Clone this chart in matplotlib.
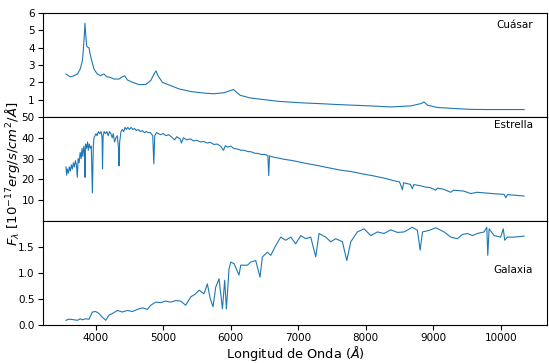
import numpy as np
import matplotlib
matplotlib.use("Agg")
import matplotlib.pyplot as plt

# Espectro del cuasar (longitud de onda en A, flujo)
wl_cuasar = [3560, 3590, 3622, 3660, 3700, 3729, 3770, 3800, 3812, 3830, 3841, 3852,
             3867, 3885, 3900, 3920, 3936, 3975, 4024, 4073, 4100, 4123, 4163, 4212,
             4271, 4345, 4395, 4430, 4469, 4543, 4642, 4741, 4815, 4864, 4893, 4923,
             4988, 5111, 5234, 5407, 5605, 5750, 5900, 6000, 6040, 6080, 6141, 6289,
             6541, 6716, 7086, 7326, 7573, 8074, 8370, 8666, 8815, 8864, 8914, 9062,
             9309, 9556, 9803, 10049, 10345]
fl_cuasar = [2.48, 2.40, 2.32, 2.35, 2.42, 2.48, 2.76, 3.20, 3.60, 4.60, 5.41, 4.80,
             4.09, 4.02, 4.00, 3.60, 3.33, 2.76, 2.48, 2.38, 2.45, 2.48, 2.32, 2.29,
             2.19, 2.19, 2.32, 2.38, 2.14, 2.00, 1.87, 1.87, 2.10, 2.48, 2.66, 2.38,
             2.00, 1.81, 1.62, 1.47, 1.38, 1.34, 1.40, 1.53, 1.59, 1.45, 1.25, 1.10,
             0.98, 0.90, 0.81, 0.77, 0.72, 0.64, 0.58, 0.64, 0.77, 0.87, 0.68, 0.55,
             0.49, 0.44, 0.43, 0.43, 0.43]

# Espectro de la estrella
wl_estrella = [3560, 3570, 3580, 3595, 3610, 3625, 3640, 3655, 3670, 3685, 3700, 3715,
               3728, 3740, 3755, 3770, 3785, 3798, 3810, 3825, 3835, 3841, 3850, 3865,
               3880, 3890, 3905, 3920, 3935, 3951, 3965, 3975, 3990, 4005, 4020, 4040,
               4060, 4080, 4095, 4101, 4110, 4125, 4145, 4165, 4185, 4205, 4225, 4245,
               4260, 4280, 4300, 4320, 4338, 4345, 4355, 4375, 4395, 4415, 4435, 4455,
               4475, 4500, 4525, 4550, 4575, 4600, 4630, 4660, 4690, 4720, 4750, 4780,
               4810, 4845, 4861, 4875, 4900, 4930, 4960, 5000, 5040, 5080, 5120, 5170,
               5200, 5250, 5270, 5300, 5350, 5400, 5450, 5500, 5550, 5600, 5650, 5700,
               5750, 5800, 5850, 5893, 5920, 5950, 6000, 6050, 6100, 6150, 6200, 6250,
               6300, 6350, 6400, 6450, 6500, 6550, 6563, 6575, 6600, 6650, 6700, 6800,
               6889, 7000, 7100, 7185, 7300, 7400, 7481, 7600, 7700, 7778, 7900, 7975,
               8100, 8173, 8300, 8400, 8500, 8543, 8560, 8660, 8691, 8710, 8800, 8889,
               8950, 9037, 9062, 9150, 9259, 9300, 9450, 9556, 9650, 9800, 9950, 10049,
               10074, 10100, 10200, 10345]
fl_estrella = [26, 22, 25, 23, 26, 24, 27, 25, 28, 26, 29, 27,
               21, 30, 28, 33, 30, 35, 31, 36, 33, 21, 37, 35,
               38, 34, 37, 35, 36, 13.5, 36, 40, 41, 42, 41, 43,
               42, 43, 40, 25, 41, 43, 42, 43, 41, 43, 42, 40,
               42, 38, 40, 41, 35, 26.5, 38, 43, 44, 43, 45, 44,
               45, 44, 45, 44, 44.5, 43.5, 44, 43, 43.5, 42.5, 43, 42.5,
               42.5, 41, 27.5, 41, 42.5, 42, 41.5, 42, 41, 41.5, 40.5, 39,
               40.5, 39.5, 37.5, 40, 39, 39.5, 38.5, 38.8, 38, 38.2, 37.5, 37.8,
               36.8, 37, 36, 34, 36.2, 35.5, 36, 34.8, 34.6, 34, 34, 33.4,
               33.3, 32.6, 32.5, 32, 32, 31.5, 21.8, 31.3, 31.0, 30.6, 30.3, 29.6,
               29.2, 28.5, 27.8, 27.3, 26.6, 25.9, 25.4, 24.6, 24.1, 23.8, 23.0, 22.5,
               21.8, 21.3, 20.4, 19.5, 18.8, 15, 18.4, 17.6, 15.5, 17.5, 17, 16.3,
               16.1, 14.8, 15.8, 15.3, 13.8, 14.8, 14.4, 13.2, 13.8, 13.4, 13.0, 12.8,
               11.2, 12.7, 12.4, 12.0]

# Espectro de la galaxia
wl_galaxia = [3559, 3600, 3630, 3680, 3729, 3770, 3803, 3852, 3901, 3951, 4000, 4049,
              4099, 4148, 4197, 4247, 4321, 4395, 4469, 4543, 4617, 4692, 4766, 4815,
              4889, 4963, 5037, 5111, 5185, 5259, 5333, 5407, 5481, 5531, 5604, 5654,
              5696, 5738, 5778, 5827, 5877, 5911, 5936, 5975, 6000, 6049, 6123, 6148,
              6247, 6296, 6370, 6434, 6469, 6543, 6593, 6667, 6741, 6815, 6889, 6963,
              7037, 7111, 7185, 7259, 7308, 7407, 7481, 7556, 7654, 7719, 7778, 7876,
              7975, 8074, 8173, 8270, 8370, 8470, 8568, 8691, 8765, 8805, 8840, 8940,
              9037, 9160, 9259, 9358, 9430, 9506, 9580, 9654, 9753, 9793, 9807, 9827,
              9901, 9998, 10037, 10058, 10099, 10197, 10345]
fl_galaxia = [0.09, 0.11, 0.11, 0.10, 0.09, 0.12, 0.10, 0.12, 0.11, 0.25, 0.26, 0.22,
              0.15, 0.09, 0.19, 0.22, 0.28, 0.25, 0.28, 0.26, 0.30, 0.33, 0.30, 0.38,
              0.44, 0.43, 0.46, 0.44, 0.47, 0.46, 0.38, 0.54, 0.60, 0.67, 0.60, 0.79,
              0.51, 0.35, 0.73, 0.89, 0.31, 0.86, 0.31, 1.08, 1.21, 1.18, 0.96, 1.15,
              1.15, 1.21, 1.24, 0.92, 1.31, 1.40, 1.34, 1.53, 1.69, 1.63, 1.69, 1.56,
              1.72, 1.66, 1.69, 1.31, 1.76, 1.69, 1.60, 1.66, 1.60, 1.24, 1.60, 1.79,
              1.85, 1.72, 1.79, 1.76, 1.83, 1.78, 1.79, 1.88, 1.82, 1.44, 1.79, 1.82,
              1.87, 1.79, 1.69, 1.66, 1.74, 1.76, 1.72, 1.76, 1.79, 1.88, 1.34, 1.85,
              1.72, 1.69, 1.85, 1.63, 1.69, 1.69, 1.71]

fig, axs = plt.subplots(3, 1, sharex=True, figsize=(5.49, 3.63), dpi=100)
fig.subplots_adjust(left=43/549, right=547/549, top=1-13/363, bottom=1-325/363, hspace=0)

color = 'tab:blue'
axs[0].plot(wl_cuasar, fl_cuasar, color=color, lw=0.8)
axs[1].plot(wl_estrella, fl_estrella, color=color, lw=0.8)
axs[2].plot(wl_galaxia, fl_galaxia, color=color, lw=0.8)

axs[0].set_ylim(0, 6)
axs[0].set_yticks([1, 2, 3, 4, 5, 6])
axs[1].set_ylim(0, 50)
axs[1].set_yticks([10, 20, 30, 40, 50])
axs[2].set_ylim(0, 2.0)
axs[2].set_yticks([0.0, 0.5, 1.0, 1.5])
axs[2].set_xticks([4000, 5000, 6000, 7000, 8000, 9000, 10000])

for ax in axs:
    ax.tick_params(labelsize=7.5, pad=2.5)

axs[0].text(0.972, 0.886, 'Cuásar', transform=axs[0].transAxes, ha='right', va='center', fontsize=7.5)
axs[1].text(0.972, 0.92, 'Estrella', transform=axs[1].transAxes, ha='right', va='center', fontsize=7.5)
axs[2].text(0.972, 0.53, 'Galaxia', transform=axs[2].transAxes, ha='right', va='center', fontsize=7.5)

axs[2].set_xlabel(r'Longitud de Onda ($\AA$)', fontsize=9.3, labelpad=0.5)
fig.text(0.022, 0.52, r'$F_\lambda\ [10^{-17} erg/s/cm^2/\AA]$', rotation=90,
         ha='center', va='center', fontsize=9.5)

fig.savefig('out.png', dpi=100)
